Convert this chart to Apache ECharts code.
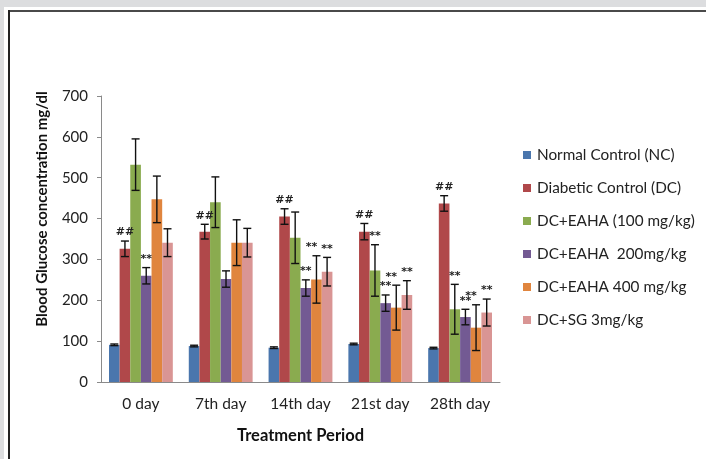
<!DOCTYPE html>
<html>
<head>
<meta charset="utf-8">
<script src="https://cdn.jsdelivr.net/npm/echarts@6/dist/echarts.min.js"></script>
<style>
  html, body { margin: 0; padding: 0; background: #fff; }
  #chart { width: 706px; height: 459px; }
</style>
</head>
<body>
<div id="chart"></div>
<script>
// categories and values
var categories = ['0 day', '7th day', '14th day', '21st day', '28th day'];
var seriesNames = ['Normal Control (NC)', 'Diabetic Control (DC)', 'DC+EAHA (100 mg/kg)',
                   'DC+EAHA  200mg/kg', 'DC+EAHA 400 mg/kg', 'DC+SG 3mg/kg'];
var ncValues      = [91, 88, 84, 93, 83];
var dcValues      = [326, 368, 405, 368, 437];
var eaha100Values = [532, 440, 353, 273, 178];
var eaha200Values = [260, 252, 230, 193, 159];
var eaha400Values = [447, 341, 251, 182, 133];
var sgValues      = [341, 341, 270, 213, 170];
// error bar half lengths
var ncErr      = [2, 2, 2, 2, 2];
var dcErr      = [19, 18, 19, 20, 19];
var eaha100Err = [63, 62, 63, 63, 61];
var eaha200Err = [20, 20, 20, 20, 19];
var eaha400Err = [57, 56, 58, 55, 56];
var sgErr      = [34, 35, 35, 35, 33];
// significance marks
var ncMarks      = ['', '', '', '', ''];
var dcMarks      = ['##', '##', '##', '##', '##'];
var eaha100Marks = ['', '', '', '**', '**'];
var eaha200Marks = ['**', '', '**', '**', '**'];
var eaha400Marks = ['', '', '**', '**', '**'];
var sgMarks      = ['', '', '**', '**', '**'];
var yTicks = [0, 100, 200, 300, 400, 500, 600, 700];

var allValues = [ncValues, dcValues, eaha100Values, eaha200Values, eaha400Values, sgValues];
var allErr = [ncErr, dcErr, eaha100Err, eaha200Err, eaha400Err, sgErr];
var allMarks = [ncMarks, dcMarks, eaha100Marks, eaha200Marks, eaha400Marks, sgMarks];
var colors = ['#4a76ad', '#b0484a', '#8aab4f', '#735a93', '#e0853e', '#d99594'];
var fontFam = 'Lato, "Open Sans", sans-serif';

var myChart = echarts.init(document.getElementById('chart'));

// error bars + marks, one custom series per bar series
var errorRenderer = function (idx) {
  return function (params, api) {
    var cat = api.value(0), lo = api.value(1), hi = api.value(2);
    var band = api.size([1, 0])[0];
    var barW = band * 0.8 / 6;
    var cx = api.coord([cat, 0])[0] + (idx - 2.5) * barW;
    var yTop = api.coord([cat, hi])[1];
    var yBot = api.coord([cat, lo])[1];
    var cap = 4;
    var st = { stroke: '#111', lineWidth: 1.4 };
    var children = [
      { type: 'line', shape: { x1: cx, y1: yTop, x2: cx, y2: yBot }, style: st },
      { type: 'line', shape: { x1: cx - cap, y1: yTop, x2: cx + cap, y2: yTop }, style: st },
      { type: 'line', shape: { x1: cx - cap, y1: yBot, x2: cx + cap, y2: yBot }, style: st }
    ];
    var mark = allMarks[idx][params.dataIndex];
    if (mark) {
      children.push({
        type: 'text',
        style: {
          text: mark, x: cx + (idx == 4 ? -5 : 0), y: yTop - 3,
          align: 'center', verticalAlign: 'bottom',
          fontSize: 11, fontWeight: 'bold', fontFamily: 'DejaVu Sans', fill: '#222'
        }
      });
    }
    return { type: 'group', children: children };
  };
};

var series = [];
for (var i = 0; i < 6; i++) {
  series.push({
    name: seriesNames[i],
    type: 'bar',
    barGap: '0%',
    barCategoryGap: '20%',
    itemStyle: { color: colors[i] },
    data: allValues[i]
  });
}
for (var i = 0; i < 6; i++) {
  var d = [];
  for (var j = 0; j < categories.length; j++) {
    d.push([j, allValues[i][j] - allErr[i][j], allValues[i][j] + allErr[i][j]]);
  }
  series.push({
    name: 'err' + i,
    type: 'custom',
    renderItem: errorRenderer(i),
    z: 5,
    data: d
  });
}

var option = {
  backgroundColor: '#fff',
  animation: false,
  color: colors,
  graphic: [
    { type: 'rect', shape: { x: 0, y: 0, width: 706, height: 7 }, style: { fill: '#dcdddf' } },
    { type: 'rect', shape: { x: 0, y: 0, width: 4, height: 459 }, style: { fill: '#dcdddf' } },
    { type: 'rect', shape: { x: 8, y: 10, width: 698, height: 2 }, style: { fill: '#4a4a4a' } },
    { type: 'rect', shape: { x: 8, y: 10, width: 2, height: 449 }, style: { fill: '#222' } }
  ],
  grid: { left: 101, top: 96, right: 206, bottom: 77 },
  legend: {
    orient: 'vertical',
    left: 518,
    top: 142,
    itemWidth: 8,
    itemHeight: 8,
    itemGap: 17,
    icon: 'rect',
    data: seriesNames,
    textStyle: { fontFamily: fontFam, fontSize: 15.3, color: '#222', lineHeight: 16, padding: [0, 0, 0, 1] }
  },
  xAxis: {
    type: 'category',
    data: categories,
    name: 'Treatment Period',
    nameLocation: 'middle',
    nameGap: 45,
    nameTextStyle: { fontFamily: fontFam, fontSize: 16.5, fontWeight: 'bold', color: '#111' },
    axisLine: { lineStyle: { color: '#8a8a8a', width: 1 } },
    axisTick: { show: false },
    axisLabel: { fontFamily: fontFam, fontSize: 15.5, color: '#222', margin: 14 }
  },
  yAxis: {
    type: 'value',
    min: yTicks[0],
    max: yTicks[yTicks.length - 1],
    interval: 100,
    name: 'Blood Glucose concentration mg/dl',
    nameLocation: 'middle',
    nameGap: 51,
    nameTextStyle: { fontFamily: fontFam, fontSize: 15, fontWeight: 'bold', color: '#111', padding: [0, 0, 0, 60] },
    axisLine: { show: true, lineStyle: { color: '#8a8a8a', width: 1 } },
    axisTick: { show: true, inside: false, length: 4, lineStyle: { color: '#8a8a8a' } },
    splitLine: { show: false },
    axisLabel: { fontFamily: fontFam, fontSize: 15, color: '#222', margin: 13 }
  },
  series: series
};
myChart.setOption(option, true);
</script>
</body>
</html>
